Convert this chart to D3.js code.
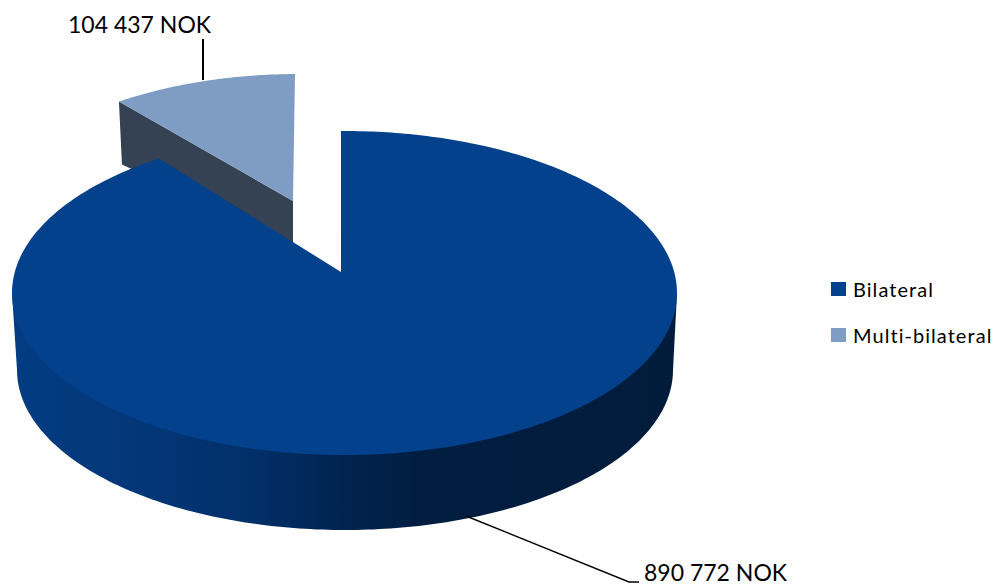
<!DOCTYPE html>
<html>
<head>
<meta charset="utf-8">
<script src="https://cdn.jsdelivr.net/npm/d3@7/dist/d3.min.js"></script>
<style>
  html, body { margin: 0; padding: 0; background: #fff; }
  svg { display: block; }
  text { font-family: Lato, "Open Sans", sans-serif; fill: #000; }
</style>
</head>
<body>
<svg id="chart" width="1001" height="588"></svg>
<script>
const categories = ["Bilateral", "Multi-bilateral"];
const values = [890772, 104437];
const unit = "NOK";
const topColors = ["#03418c", "#7f9dc4"];

const svg = d3.select("#chart");
const defs = svg.append("defs");

// Disc coordinates (-1..1) to page pixels for the top face of the pie.
const x = d3.scaleLinear().domain([-1, 1]).range([12, 677]);
const y = d3.scaleLinear().domain([-1, 1]).range([455, 131]);
// The lower rim of the wall is a slightly narrower ellipse further down.
const xRim = d3.scaleLinear().domain([-1, 1]).range([17, 673]);
const yRim = d3.scaleLinear().domain([-1, 1]).range([530, 210]);

// Perspective: a projective map of the disc that moves its centre up and slightly left,
// so equal angles look narrower towards the back of the pie.
const depthTilt = 0.13, sideTilt = -0.0105;
function project(angle) {
  const u = Math.sin(angle), v = Math.cos(angle);
  const dv = 1 + depthTilt * v;
  const p = u * Math.sqrt(1 - depthTilt * depthTilt) / dv;
  const q = (v + depthTilt) / dv;
  const du = 1 + sideTilt * p;
  return [(p + sideTilt) / du, q * Math.sqrt(1 - sideTilt * sideTilt) / du];
}

const pie = d3.pie().sort(null).value(d => d);
const slices = pie(values);
const [bilateral, multi] = slices;

const line = d3.line();
const steps = (a0, a1, n = 180) => d3.range(n + 1).map(i => a0 + (a1 - a0) * i / n);
const onTop = a => { const [p, q] = project(a); return [x(p), y(q)]; };

// Wall shading runs from mid blue on the left to near-black navy on the right.
const wallGradient = defs.append("linearGradient")
  .attr("id", "wall").attr("gradientUnits", "userSpaceOnUse")
  .attr("x1", 15).attr("x2", 675).attr("y1", 0).attr("y2", 0);
[[0, "#033c82"], [0.15, "#03387a"], [0.35, "#02306a"], [0.5, "#01234f"], [0.62, "#011d40"], [1, "#011c3b"]]
  .forEach(([o, c]) => wallGradient.append("stop").attr("offset", o).attr("stop-color", c));

const g = svg.append("g");

// Detached multi-bilateral wedge: dark cut face, then its top.
// The wedge sits further back, so its arc is drawn slightly narrower and shifted.
const wedgeShift = [-43, -57], wedgeSqueeze = 0.967, wedgeMidX = 207;
const apexMulti = [293, 201];
const multiArc = steps(multi.startAngle, multi.endAngle, 60).map(onTop)
  .map(([px, py]) => {
    const sx = px + wedgeShift[0];
    return [wedgeMidX + (sx - wedgeMidX) * wedgeSqueeze, py + wedgeShift[1]];
  });
const multiStart = multiArc[0];

g.append("path")
  .attr("d", line([multiStart, apexMulti, [293, 245], [multiStart[0] + 3, multiStart[1] + 63]]) + "Z")
  .attr("fill", "#354254");
g.append("path")
  .attr("d", line([apexMulti, ...multiArc]) + "Z")
  .attr("fill", topColors[1]);

// Wall of the large slice: lower rim plus the sides joining it to the top face.
const rimPoints = steps(Math.PI / 2, Math.PI * 1.5).map(a => [xRim(Math.sin(a)), yRim(Math.cos(a))]);
const edgeRight = [x(1), y(0)], edgeLeft = [x(-1), y(0)];
g.append("path")
  .attr("d", line([edgeRight, ...rimPoints, edgeLeft]) + "Z")
  .attr("fill", "url(#wall)");

// Top face of the large slice.
const apexMain = [341, 272];
g.append("path")
  .attr("d", line([apexMain, ...steps(bilateral.startAngle, bilateral.endAngle, 360).map(onTop)]) + "Z")
  .attr("fill", topColors[0]);

// Leader lines and value labels.
const fmt = v => d3.formatLocale({ thousands: " ", grouping: [3], decimal: ".", currency: ["", ""] }).format(",d")(v) + " " + unit;
g.append("line").attr("x1", 203).attr("x2", 203).attr("y1", 39).attr("y2", 80)
  .attr("stroke", "#000").attr("stroke-width", 2);
g.append("path").attr("d", line([[466, 516], [629, 582], [639, 582]]))
  .attr("fill", "none").attr("stroke", "#000").attr("stroke-width", 1.4);

const labelAt = [[644, 581], [68, 33]];
values.forEach((v, i) => {
  g.append("text").attr("x", labelAt[i][0]).attr("y", labelAt[i][1])
    .attr("font-size", 23).text(fmt(v));
});

// Legend.
const legendY = d3.scalePoint().domain(categories).range([289, 335]);
const legend = g.selectAll("g.entry").data(categories).join("g").attr("class", "entry")
  .attr("transform", d => `translate(831,${legendY(d)})`);
legend.append("rect").attr("x", 0).attr("y", -7).attr("width", 15).attr("height", 14)
  .attr("fill", (d, i) => topColors[i]);
legend.append("text").attr("x", 22).attr("y", 8).attr("font-size", 20)
  .attr("letter-spacing", 1.05).text(d => d);
</script>
</body>
</html>
